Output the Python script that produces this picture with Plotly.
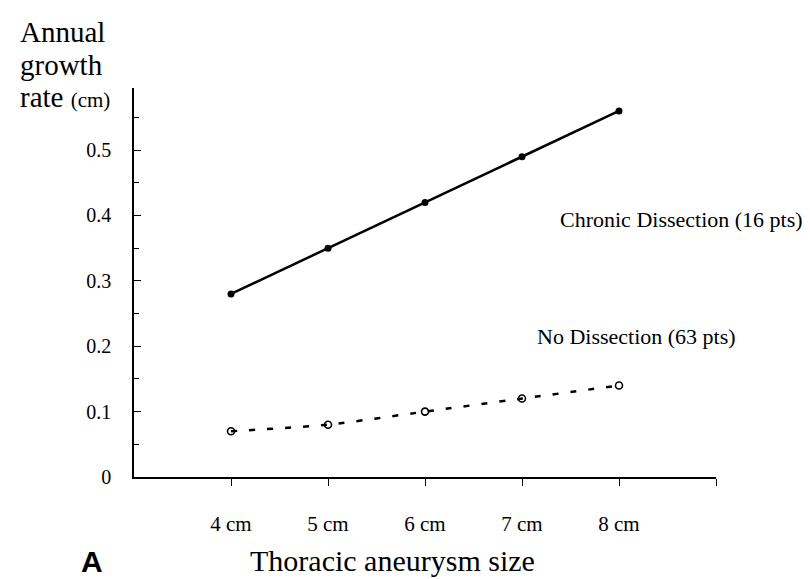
import plotly.graph_objects as go

sizes = [4, 5, 6, 7, 8]
size_labels = ["4 cm", "5 cm", "6 cm", "7 cm", "8 cm"]
chronic = [0.28, 0.35, 0.42, 0.49, 0.56]
no_dissection = [0.07, 0.08, 0.10, 0.12, 0.14]
y_ticks = [0, 0.1, 0.2, 0.3, 0.4, 0.5]
y_tick_labels = ["0", "0.1", "0.2", "0.3", "0.4", "0.5"]

SERIF = "Liberation Serif"

fig = go.Figure()
fig.add_trace(go.Scatter(
    x=sizes, y=no_dissection, mode="lines+markers",
    line=dict(color="black", width=2.5, dash="6px,12px", shape="spline", smoothing=0.6),
    marker=dict(symbol="circle-open", size=7, color="black", line=dict(width=1.6)),
    showlegend=False))
fig.add_trace(go.Scatter(
    x=sizes, y=chronic, mode="lines+markers",
    line=dict(color="black", width=2.5),
    marker=dict(symbol="circle", size=7, color="black"),
    showlegend=False))

fig.update_xaxes(
    range=[3, 9], tickmode="array", tickvals=sizes + [9], ticktext=size_labels + [""],
    showline=True, linecolor="black", linewidth=1.5, ticks="outside", ticklen=7,
    tickcolor="black", tickwidth=1.2, showgrid=False, zeroline=False,
    ticklabelstandoff=20,
    tickfont=dict(family=SERIF, size=21, color="black"))
fig.update_yaxes(
    range=[0, 0.595], tickmode="array", tickvals=y_ticks, ticktext=y_tick_labels,
    showline=True, linecolor="black", linewidth=1.5, ticks="inside", ticklen=7,
    tickcolor="black", tickwidth=1.2, showgrid=False, zeroline=False,
    minor=dict(tickmode="array", tickvals=[0.05, 0.15, 0.25, 0.35, 0.45, 0.55],
               ticks="inside", ticklen=5, tickcolor="black", tickwidth=1),
    ticklabelstandoff=17,
    tickfont=dict(family=SERIF, size=20, color="black"))

ylab = dict(xref="paper", yref="paper", x=-0.1993, xanchor="left", yanchor="middle",
            align="left", showarrow=False, font=dict(family=SERIF, size=29, color="black"))

fig.update_layout(
    width=810, height=579,
    margin=dict(l=126, r=102, t=80, b=110),
    paper_bgcolor="white", plot_bgcolor="white",
    font=dict(family=SERIF, color="black"),
    annotations=[
        dict(ylab, text="Annual", y=1.144),
        dict(ylab, text="growth", y=1.0604),
        dict(ylab, text="rate <span style='font-size:21px'>(cm)</span>", y=0.9769),
        dict(text="Chronic Dissection (16 pts)", xref="x", yref="y",
             x=7.371, y=0.394, xanchor="left", yanchor="middle", showarrow=False,
             font=dict(family=SERIF, size=22, color="black")),
        dict(text="No Dissection (63 pts)", xref="x", yref="y",
             x=7.134, y=0.2156, xanchor="left", yanchor="middle", showarrow=False,
             font=dict(family=SERIF, size=22, color="black")),
        dict(text="Thoracic aneurysm size", xref="paper", yref="paper",
             x=0.445, y=-0.2134, xanchor="center", yanchor="middle", showarrow=False,
             font=dict(family=SERIF, size=30, color="black")),
        dict(text="<b>A</b>", xref="paper", yref="paper",
             x=-0.0722, y=-0.2185, xanchor="center", yanchor="middle", showarrow=False,
             font=dict(family="Liberation Sans", size=30, color="black")),
    ])

fig.write_html("out.html")
